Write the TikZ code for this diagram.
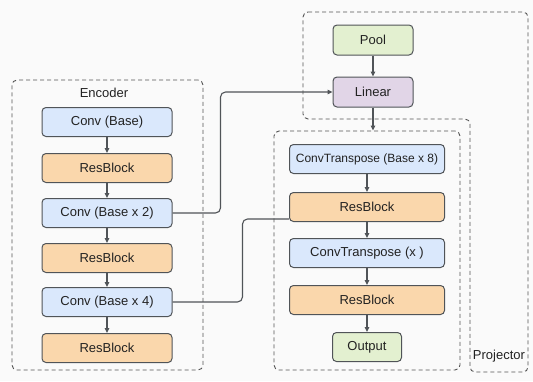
\documentclass[tikz,border=0pt]{standalone}
\usepackage{fontspec}
\setmainfont{Liberation Sans}
\usetikzlibrary{arrows.meta}
\definecolor{bgc}{HTML}{FAFAFA}
\definecolor{edge}{HTML}{505458}
\definecolor{txt}{HTML}{222222}
\definecolor{bluef}{HTML}{DAE8FC}
\definecolor{orangef}{HTML}{FAD7AC}
\definecolor{greenf}{HTML}{E3F0D0}
\definecolor{purplef}{HTML}{E1D5E7}
\definecolor{dashc}{HTML}{555555}
\tikzset{
  blk/.style={draw=edge, line width=1pt, rounded corners=4pt, minimum height=29pt,
    inner sep=0pt, text=txt, font=\fontsize{13}{15}\selectfont},
  conv/.style={blk, fill=bluef},
  res/.style={blk, fill=orangef},
  term/.style={blk, fill=greenf},
  lin/.style={blk, fill=purplef},
  grp/.style={draw=dashc, line width=0.9pt, dash pattern=on 4pt off 3pt, rounded corners=5pt, inner sep=0pt},
  conn/.style={draw=edge, line width=1.1pt, -{Triangle[length=5pt,width=4.5pt]}},
  link/.style={draw=edge, line width=1.1pt, rounded corners=5pt},
  lbl/.style={text=txt, font=\fontsize{13}{15}\selectfont, inner sep=0pt}
}
\begin{document}
\begin{tikzpicture}[x=1pt, y=-1pt]
  \fill[bgc] (0,0) rectangle (533,381);
  \useasboundingbox (0,0) rectangle (533,381);

  % group outlines
  \node[grp, minimum width=191pt, minimum height=290pt] (encbox) at (107.5,225) {};
  \node[grp, minimum width=186pt, minimum height=239pt] (decbox) at (367,250.5) {};
  \draw[grp] (303,12) -- (528,12) -- (528,372) -- (470,372) -- (470,119) -- (303,119) -- cycle;
  \node[lbl] (enclbl) at (104,93) {Encoder};
  \node[lbl] (projlbl) at (499,356) {Projector};

  % encoder
  \node[conv, minimum width=130pt] (e1) at (107,122) {Conv (Base)};
  \node[res,  minimum width=130pt] (e2) at (107,168) {ResBlock};
  \node[conv, minimum width=130pt] (e3) at (107,213) {Conv (Base x 2)};
  \node[res,  minimum width=130pt] (e4) at (107,258) {ResBlock};
  \node[conv, minimum width=130pt] (e5) at (107,302) {Conv (Base x 4)};
  \node[res,  minimum width=130pt] (e6) at (107,348) {ResBlock};

  % projector head
  \node[term, minimum width=80pt, minimum height=30pt] (pool) at (373,40) {Pool};
  \node[lin,  minimum width=80pt, minimum height=30pt] (linear) at (373,92) {Linear};

  % decoder
  \node[conv, minimum width=155pt, font=\fontsize{12}{14}\selectfont] (d1) at (367,159) {ConvTranspose (Base x 8)};
  \node[res,  minimum width=155pt] (d2) at (367,207) {ResBlock};
  \node[conv, minimum width=155pt] (d3) at (367,253) {ConvTranspose (x )};
  \node[res,  minimum width=155pt] (d4) at (367,300) {ResBlock};
  \node[term, minimum width=69pt] (out) at (367,347) {Output};

  % vertical flow
  \draw[conn] (e1) -- (e2);
  \draw[conn] (e2) -- (e3);
  \draw[conn] (e3) -- (e4);
  \draw[conn] (e4) -- (e5);
  \draw[conn] (e5) -- (e6);
  \draw[conn] (pool) -- (linear);
  \draw[conn] (linear.south) -- (linear.south |- decbox.north);
  \draw[conn] (d1) -- (d2);
  \draw[conn] (d2) -- (d3);
  \draw[conn] (d3) -- (d4);
  \draw[conn] (d4) -- (out);

  % skip links
  \draw[link, -{Triangle[length=5pt,width=4.5pt]}] (e3.east) -- ++(48,0) |- (linear.west);
  \draw[link] (e5.east) -- ++(70,0) |- ([yshift=-12pt]d2.west);
\end{tikzpicture}
\end{document}
